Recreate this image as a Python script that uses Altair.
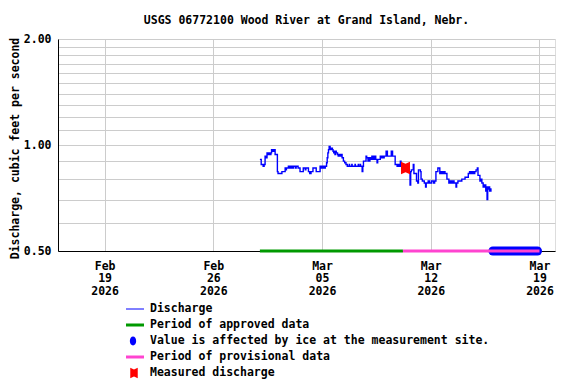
import altair as alt
import pandas as pd

FONT = "DejaVu Sans Mono"
FS = 11.5

title_text = "USGS 06772100 Wood River at Grand Island, Nebr."
y_title = "Discharge, cubic feet per second"

# Discharge series: hours after 2026-03-01 00:00 UTC and value (ft3/s)
hours = [0, 2, 5, 6.5, 8, 9.5, 11, 12, 13, 14, 15, 16, 17, 18, 19, 20, 21, 22, 23.5, 26,
         27, 28, 34, 39, 40, 41, 44, 45, 46, 48, 49, 51, 52, 55, 56, 59, 62, 67, 70, 71,
         75, 77, 79, 82, 87, 93, 94, 95, 97, 98, 100, 101, 103, 104, 105, 106, 107, 108.5, 110, 112,
         113, 114, 115, 116, 117, 118, 120, 121, 122, 124, 126, 127, 129, 131, 133, 135, 138, 138.5, 142, 142.5,
         147, 147.5, 152, 152.5, 155, 155.5, 158, 159, 160, 164, 165, 167, 168, 169, 170, 171, 173, 174, 175, 176,
         177, 179, 181, 182, 186, 187, 189, 190, 192, 195, 197, 203, 205, 208, 209, 212, 214, 215, 217, 218,
         221, 224, 227, 230, 232, 233, 234, 237, 238, 241, 242, 244, 245, 248, 249, 251, 254, 256, 257, 260,
         262, 265, 268, 270, 272, 275, 278, 280, 282, 284, 286, 289, 292, 294, 296, 298, 300, 303, 304, 306,
         312, 317, 322, 324, 326, 328, 330, 332, 334, 336, 337, 340, 342, 343, 345, 347, 349, 350, 351, 352,
         353, 355, 357, 358]
flow = [0.91, 0.88, 0.87, 0.88, 0.93, 0.92, 0.95, 0.94, 0.95, 0.94, 0.95, 0.94, 0.95, 0.97, 0.96, 0.97, 0.96, 0.97, 0.94, 0.94,
        0.84, 0.83, 0.84, 0.86, 0.85, 0.86, 0.87, 0.86, 0.87, 0.86, 0.87, 0.86, 0.87, 0.86, 0.87, 0.86, 0.84, 0.86, 0.85, 0.86,
        0.84, 0.83, 0.84, 0.86, 0.84, 0.87, 0.86, 0.87, 0.86, 0.87, 0.86, 0.87, 0.89, 0.92, 0.95, 0.97, 0.99, 0.97, 0.98, 0.97,
        0.96, 0.95, 0.96, 0.94, 0.96, 0.95, 0.94, 0.93, 0.94, 0.93, 0.94, 0.92, 0.90, 0.89, 0.88, 0.87, 0.88, 0.87, 0.88, 0.87,
        0.88, 0.87, 0.88, 0.87, 0.88, 0.87, 0.84, 0.87, 0.90, 0.93, 0.92, 0.90, 0.92, 0.90, 0.92, 0.91, 0.93, 0.91, 0.93, 0.91,
        0.93, 0.91, 0.89, 0.91, 0.93, 0.92, 0.93, 0.92, 0.93, 0.96, 0.93, 0.96, 0.93, 0.93, 0.88, 0.87, 0.88, 0.87, 0.90, 0.88,
        0.87, 0.86, 0.85, 0.84, 0.77, 0.84, 0.85, 0.88, 0.83, 0.83, 0.79, 0.78, 0.85, 0.84, 0.80, 0.79, 0.78, 0.76, 0.78, 0.79,
        0.78, 0.79, 0.78, 0.79, 0.84, 0.86, 0.83, 0.84, 0.83, 0.84, 0.83, 0.80, 0.78, 0.79, 0.78, 0.79, 0.78, 0.76, 0.78, 0.79,
        0.80, 0.81, 0.83, 0.84, 0.83, 0.84, 0.83, 0.84, 0.85, 0.86, 0.82, 0.79, 0.80, 0.78, 0.76, 0.77, 0.74, 0.76, 0.70, 0.75,
        0.76, 0.74, 0.75, 0.75]

approved_t = ["2026-03-01T00:00:00Z", "2026-03-10T05:00:00Z"]
provisional_t = ["2026-03-10T05:00:00Z", "2026-03-19T00:00:00Z"]
ice_t = ["2026-03-16T00:00:00Z", "2026-03-18T21:00:00Z"]
band_q = [0.5, 0.5]

meas_t = ["2026-03-10T09:00:00Z"]
meas_q = [0.86]

y_ticks = [0.5, 0.6, 0.7, 0.8, 0.9, 1.0, 1.1, 1.2, 1.3, 1.4, 1.5, 1.6, 1.7, 1.8, 1.9, 2.0]

legend_labels = ["Discharge", "Period of approved data",
                 "Value is affected by ice at the measurement site.",
                 "Period of provisional data", "Measured discharge"]

BLUE = "#0000ff"
GREEN = "#009900"
PINK = "#ff44d0"
RED = "#ff0000"
MEAS_SHAPE = "M-1,-1.4 L0,-0.95 L1,-1.4 L1,1.4 L0,0.95 L-1,1.4 Z"
ELLIPSE = "M0,-1.4 A1,1.4 0 1,1 0,1.4 A1,1.4 0 1,1 0,-1.4 Z"


def dt(m, d):
    return alt.DateTime(year=2026, month=m, date=d, utc=True)


start = pd.Timestamp("2026-03-01T00:00:00Z")
q_df = pd.DataFrame({
    "t": [(start + pd.Timedelta(hours=h)).strftime("%Y-%m-%dT%H:%M:%SZ") for h in hours],
    "q": flow,
})
appr_df = pd.DataFrame({"t": approved_t, "q": band_q})
prov_df = pd.DataFrame({"t": provisional_t, "q": band_q})
ice_df = pd.DataFrame({"t": ice_t, "q": band_q})
meas_df = pd.DataFrame({"t": meas_t, "q": meas_q})
leg_df = pd.DataFrame({"row": list(range(len(legend_labels))), "label": legend_labels})

x_axis = alt.Axis(
    values=[dt(2, 19), dt(2, 26), dt(3, 5), dt(3, 12), dt(3, 19)],
    labelExpr="[utcFormat(datum.value, '%b'), utcFormat(datum.value, '%d'), utcFormat(datum.value, '%Y')]",
    title=None, grid=True, gridColor="#cccccc", ticks=False, labelPadding=9,
    labelLineHeight=12.5, labelFont=FONT, labelFontSize=FS, labelFontWeight="bold",
    labelColor="black", domainColor="black", labelOverlap=False,
)
y_axis = alt.Axis(
    values=y_ticks,
    labelExpr="(datum.value == 0.5 || datum.value == 1 || datum.value == 2) ? format(datum.value, '.2f') : ''",
    title=y_title, titleFont=FONT, titleFontSize=FS, titleFontWeight="bold", titleColor="black",
    titlePadding=3, titleY=109,
    grid=True, gridColor="#cccccc", ticks=False, labelPadding=7,
    labelFont=FONT, labelFontSize=FS, labelFontWeight="bold", labelColor="black",
    domainColor="black", labelOverlap=False,
)

X = alt.X("t:T", scale=alt.Scale(type="utc", domain=[dt(2, 16), dt(3, 20)]), axis=x_axis)
Y = alt.Y("q:Q", scale=alt.Scale(type="log", domain=[0.5, 2.0]), axis=y_axis)

green = alt.Chart(appr_df).mark_line(color=GREEN, strokeWidth=3).encode(x=X, y=Y)
ice = alt.Chart(ice_df).mark_line(color=BLUE, strokeWidth=9, strokeCap="round").encode(x=X, y=Y)
pink = alt.Chart(prov_df).mark_line(color=PINK, strokeWidth=3).encode(x=X, y=Y)
line = alt.Chart(q_df).mark_line(color=BLUE, strokeWidth=1.4, interpolate="step-after").encode(x=X, y=Y)
meas = alt.Chart(meas_df).mark_point(shape=MEAS_SHAPE, size=81, filled=True, color=RED, opacity=1).encode(x=X, y=Y)

main = alt.layer(green, ice, pink, line, meas)

LY = alt.Y("row:Q", scale=alt.Scale(domain=[0, 4], range=[270, 334]), axis=None)
leg_base = alt.Chart(leg_df)
leg_text = leg_base.mark_text(align="left", baseline="middle", font=FONT, fontSize=FS,
                              fontWeight="bold", color="black").encode(x=alt.value(92), y=LY, text="label:N")
leg0 = leg_base.transform_filter("datum.row == 0").mark_rule(color=BLUE, strokeWidth=1).encode(
    x=alt.value(68), x2=alt.value(86), y=LY)
leg1 = leg_base.transform_filter("datum.row == 1").mark_rule(color=GREEN, strokeWidth=3).encode(
    x=alt.value(68), x2=alt.value(86), y=LY)
leg2 = leg_base.transform_filter("datum.row == 2").mark_point(shape=ELLIPSE, size=40, filled=True,
                                                              color=BLUE, opacity=1).encode(x=alt.value(75), y=LY)
leg3 = leg_base.transform_filter("datum.row == 3").mark_rule(color=PINK, strokeWidth=3).encode(
    x=alt.value(68), x2=alt.value(86), y=LY)
leg4 = leg_base.transform_filter("datum.row == 4").mark_point(shape=MEAS_SHAPE, size=56, filled=True,
                                                              color=RED, opacity=1).encode(x=alt.value(76), y=LY)
legend = alt.layer(leg0, leg1, leg2, leg3, leg4, leg_text)

chart = alt.layer(main, legend).resolve_scale(y="independent").properties(
    width=497, height=212,
    title=alt.TitleParams(text=title_text, font=FONT, fontSize=FS, fontWeight="bold",
                          color="black", anchor="middle", offset=7),
    padding={"left": 50, "top": 31, "right": 13, "bottom": 132},
    autosize=alt.AutoSizeParams(type="none"),
).configure_view(stroke="black", strokeWidth=1).configure(background="white")

chart.save("out.html", embed_options={"renderer": "svg", "actions": False})
